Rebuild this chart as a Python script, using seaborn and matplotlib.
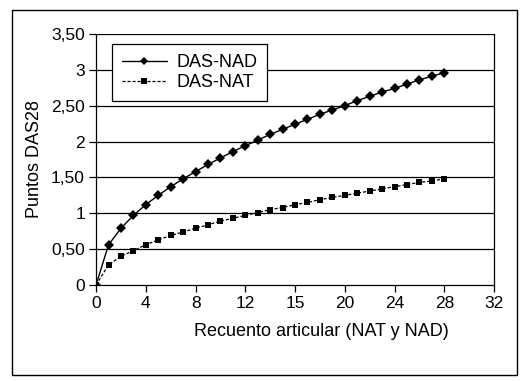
import numpy as np
import pandas as pd
import seaborn as sns
import matplotlib.pyplot as plt
from matplotlib.patches import Rectangle

# joint counts and DAS28 contributions
counts = list(range(0, 29))
das_nad = [0, 0.56, 0.79, 0.97, 1.12, 1.25, 1.37, 1.48, 1.58, 1.68, 1.77, 1.86, 1.94, 2.02,
           2.10, 2.17, 2.24, 2.31, 2.38, 2.44, 2.50, 2.57, 2.63, 2.69, 2.74, 2.80, 2.86, 2.91, 2.96]
das_nat = [0, 0.28, 0.40, 0.48, 0.56, 0.63, 0.69, 0.74, 0.79, 0.84, 0.89, 0.93, 0.97, 1.01,
           1.05, 1.08, 1.12, 1.15, 1.19, 1.22, 1.25, 1.28, 1.31, 1.34, 1.37, 1.40, 1.43, 1.45, 1.48]
x_ticks = [0, 4, 8, 12, 16, 20, 24, 28, 32]
x_labels = ["0", "4", "8", "12", "15", "20", "24", "28", "32"]
y_ticks = [0, 0.5, 1, 1.5, 2, 2.5, 3, 3.5]
y_labels = ["0", "0,50", "1", "1,50", "2", "2,50", "3", "3,50"]

df = pd.DataFrame({"x": counts, "nad": das_nad, "nat": das_nat})

sns.set_style("white")
plt.rcParams['font.family'] = ['Liberation Sans', 'DejaVu Sans']

fig = plt.figure(figsize=(5.25, 3.81), dpi=100)
ax = fig.add_axes([0.183, 0.252, 0.758, 0.659])

# outer frame around the whole figure
fig.patches.append(Rectangle((12 / 525, 1 - 375 / 381), 505 / 525, 365 / 381,
                             transform=fig.transFigure, fill=False, edgecolor="black", lw=1))

for yt in y_ticks[1:]:
    ax.axhline(yt, color="black", lw=0.9, zorder=0)

sns.lineplot(data=df, x="x", y="nad", ax=ax, color="black", lw=1, marker="D",
             markersize=5, markeredgewidth=0, label="DAS-NAD")
sns.lineplot(data=df, x="x", y="nat", ax=ax, color="black", lw=0.9, marker="s",
             markersize=4.8, markeredgewidth=0, linestyle=(0, (2.5, 1.5)), label="DAS-NAT")

ax.set_xlim(0, 32)
ax.set_ylim(0, 3.5)
ax.set_xticks(x_ticks)
ax.set_xticklabels(x_labels)
ax.set_yticks(y_ticks)
ax.set_yticklabels(y_labels)
ax.tick_params(axis="both", direction="out", length=5, width=0.9, labelsize=12.5,
               bottom=True, left=True, colors="black", pad=3)
ax.set_xlabel("Recuento articular (NAT y NAD)", fontsize=13, color="black")
ax.xaxis.set_label_coords(0.565, -0.15)
ax.set_ylabel("Puntos DAS28", fontsize=13, labelpad=6, color="black")

for side in ["left", "right", "bottom"]:
    ax.spines[side].set_color("black")
    ax.spines[side].set_linewidth(0.9)
ax.spines["top"].set_visible(False)

leg = ax.legend(loc="upper left", bbox_to_anchor=(0.04, 0.96), fancybox=False,
                framealpha=1, edgecolor="black", fontsize=13, handlelength=2.5,
                borderpad=0.55, labelspacing=0.2, handletextpad=0.5, borderaxespad=0,
                markerscale=0.8)
leg.get_frame().set_linewidth(0.9)
for t in leg.get_texts():
    t.set_color("black")

fig.savefig("out.png", dpi=100)
